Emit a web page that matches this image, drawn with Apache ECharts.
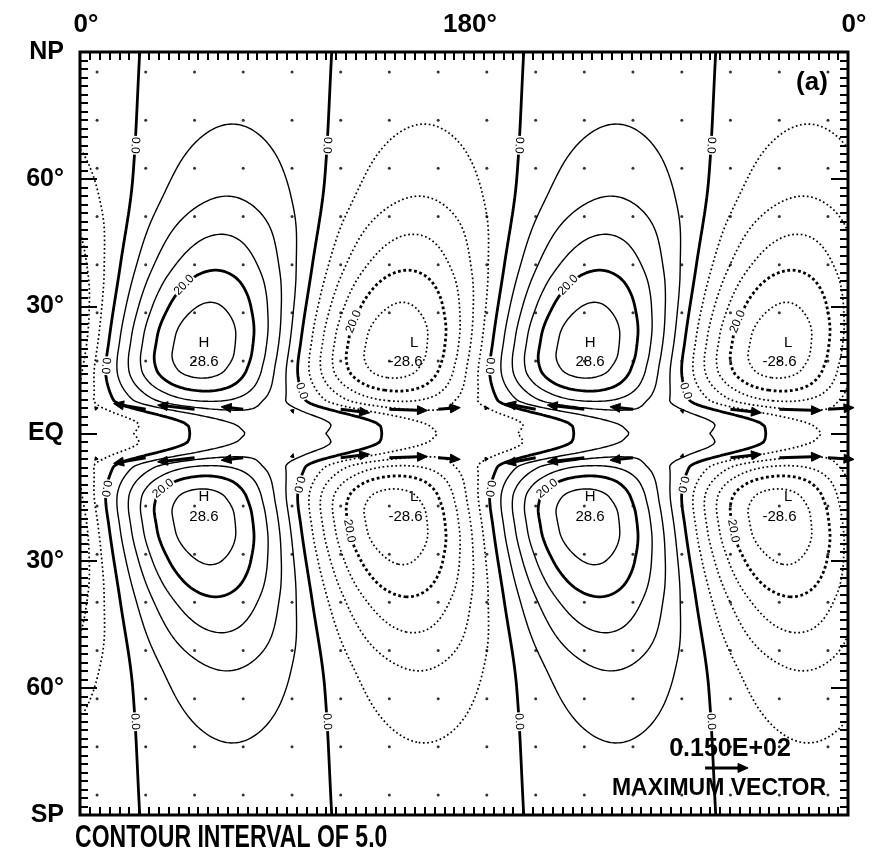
<!DOCTYPE html>
<html>
<head>
<meta charset="utf-8">
<title>Contour chart</title>
<script src="https://cdn.jsdelivr.net/npm/echarts@6/dist/echarts.min.js"></script>
<style>html,body{margin:0;padding:0;background:#fff;}#chart{width:872px;height:857px;}</style>
</head>
<body>
<div id="chart"></div>
<script>
// ---------------- data ----------------
const lonTickLabels = ['0°', '180°', '0°'];                          // at lon 0, 180, 360
const latTickLabels = ['SP', '60°', '30°', 'EQ', '30°', '60°', 'NP'];  // lat -90..90 step 30
const contourInterval = 5;
const contourLevels = [-25, -20, -15, -10, -5, 0, 5, 10, 15, 20, 25];
const boldLevels = [-20, 0, 20];
const zonalWavenumber = 2;
const ampLat = [0, 2, 4.5, 6, 8, 10, 12, 15, 19, 23, 30, 35, 40, 47, 56, 65, 73, 82, 90];
const ampVal = [6.3, 7, 8.5, 11, 16, 20, 23.5, 27, 28.6, 28.4, 25.5, 22.5, 19, 15, 10, 7, 5, 3.5, 2.5];
// longitude of the maximum versus |latitude|
const phaseLat = [0, 1.6, 8, 15, 22, 40, 60, 90];
const phaseLon = [96.5, 96, 60.5, 57, 58.6, 64, 69.7, 73];
// grid points (dots / vector tails)
const gridLon = [8.0, 30.8, 53.7, 76.5, 99.4, 122.2, 145.0, 167.9, 190.7, 213.6, 236.4, 259.2, 282.1, 304.9, 327.8, 350.6];
const gridLat = [85.3, 73.9, 62.6, 51.2, 39.8, 28.5, 17.1, 5.7, -5.7, -17.1, -28.5, -39.8, -51.2, -62.6, -73.9, -85.3];
const vecLatNorth = 5.7, vecLatSouth = -5.7;
const uNorth = [-0.8, -11.2, -12.9, -7.7, 0.4, 10.1, 13.3, 7.7, -0.6, -10.5, -12.9, -8.0, 0.4, 10.8, 14.7, 9.1];
const vNorth = [0.9, 2.0, 1.5, 0.9, -1.4, -1.2, -0.4, 0.6, 1.2, 2.0, 1.5, 0.9, -1.4, -1.2, -0.4, 0.6];
const uSouth = [-0.8, -11.2, -12.9, -7.7, 0.4, 10.1, 13.3, 7.7, -0.6, -10.5, -12.9, -8.0, 0.4, 10.8, 14.7, 9.1];
const vSouth = [-0.9, -2.0, -1.5, -0.9, 1.4, 1.2, 0.4, -0.6, -1.2, -2.0, -1.5, -0.9, 1.4, 1.2, 0.4, -0.6];
const maxVector = 15;
const legendVectorPos = [293, -78.9];
// H / L extrema labels
const extremaLon = [58.1, 156.6, 239.1, 331.9];
const extremaLetter = ['H', 'L', 'H', 'L'];
const extremaValue = ['28.6', '-28.6', '28.6', '-28.6'];
const extremaValueLon = [58.1, 152.6, 239.1, 327.9];
const extremaLetterLat = [21.4, -14.9];
const extremaValueLat = [16.9, -19.6];
// contour line labels
const cLabelLevel = [0, 0, 0, 0, 0, 0, 0, 0, 0, 0, 0, 0, 0, 0, 0, 0, 20, 20, 20, 20, -20, -20, -20, -20];
const cLabelLat = [68, 16, -13, -68, 68, 10, -12, -68, 68, 16, -13, -68, 68, 10, -12, -68, 35, -13, 35, -13, 26.4, -23, 26.4, -23];
const cLabelLon = [26.5, 12, 13, 26.5, 118, 103.5, 103, 118, 206.5, 192, 193, 206.5, 298, 283.5, 283, 298, 49, 45, 229, 225, 129, 130, 309, 310];
const cLabelText = ['0.0', '0.0', '0.0', '0.0', '0.0', '0.0', '0.0', '0.0', '0.0', '0.0', '0.0', '0.0', '0.0', '0.0', '0.0', '0.0', '20.0', '20.0', '20.0', '20.0', '20.0', '20.0', '20.0', '20.0'];

// ---------------- layout / style ----------------
const G = { left: 80, top: 52, width: 768, height: 763 };
const pxPerLon = G.width / 360, pxPerLat = G.height / 180;
const vecPxPerUnit = 43 / maxVector;
const FONT = "'Liberation Sans', Arial, Helvetica, sans-serif";

// ---------------- field from the read profiles ----------------
function makeInterp(xs, ys) {
  const n = xs.length, d = [], m = new Array(n);
  for (let i = 0; i < n - 1; i++) d.push((ys[i + 1] - ys[i]) / (xs[i + 1] - xs[i]));
  m[0] = d[0]; m[n - 1] = d[n - 2];
  for (let i = 1; i < n - 1; i++) {
    if (d[i - 1] * d[i] <= 0) m[i] = 0;
    else {
      const h0 = xs[i] - xs[i - 1], h1 = xs[i + 1] - xs[i];
      const w1 = 2 * h1 + h0, w2 = h1 + 2 * h0;
      m[i] = (w1 + w2) / (w1 / d[i - 1] + w2 / d[i]);
    }
  }
  return function (x) {
    if (x <= xs[0]) return ys[0];
    if (x >= xs[n - 1]) return ys[n - 1];
    let i = 0; while (x > xs[i + 1]) i++;
    const h = xs[i + 1] - xs[i], t = (x - xs[i]) / h, t2 = t * t, t3 = t2 * t;
    return (2 * t3 - 3 * t2 + 1) * ys[i] + (t3 - 2 * t2 + t) * h * m[i] + (-2 * t3 + 3 * t2) * ys[i + 1] + (t3 - t2) * h * m[i + 1];
  };
}
const ampF = makeInterp(ampLat, ampVal);
const phaseF = makeInterp(phaseLat, phaseLon);
function fieldAt(lon, lat) {
  const a = Math.abs(lat);
  return ampF(a) * Math.cos(zonalWavenumber * (lon - phaseF(a)) * Math.PI / 180);
}

const NX = 361, NY = 721;
const lons = [], lats = [];
for (let i = 0; i < NX; i++) lons.push(i * 360 / (NX - 1));
for (let j = 0; j < NY; j++) lats.push(-90 + j * 180 / (NY - 1));
const vals = new Float64Array(NX * NY);
for (let j = 0; j < NY; j++) for (let i = 0; i < NX; i++) vals[j * NX + i] = fieldAt(lons[i], lats[j]);

function traceLevel(level) {
  const pt = new Map(), adj = new Map();
  const ep = (key, xa, ya, va, xb, yb, vb) => {
    if (!pt.has(key)) { const t = (level - va) / (vb - va); pt.set(key, [xa + t * (xb - xa), ya + t * (yb - ya)]); }
    return key;
  };
  const link = (a, b) => {
    if (!adj.has(a)) adj.set(a, []);
    if (!adj.has(b)) adj.set(b, []);
    adj.get(a).push(b); adj.get(b).push(a);
  };
  for (let j = 0; j < NY - 1; j++) {
    for (let i = 0; i < NX - 1; i++) {
      const a = vals[j * NX + i], b = vals[j * NX + i + 1], c = vals[(j + 1) * NX + i + 1], d = vals[(j + 1) * NX + i];
      const A = a >= level, B = b >= level, C = c >= level, D = d >= level;
      const code = (A ? 1 : 0) | (B ? 2 : 0) | (C ? 4 : 0) | (D ? 8 : 0);
      if (code === 0 || code === 15) continue;
      const x0 = lons[i], x1 = lons[i + 1], y0 = lats[j], y1 = lats[j + 1];
      const list = [];
      let eB = -1, eR = -1, eT = -1, eL = -1;
      if (A !== B) { eB = ep((j * NX + i) * 2, x0, y0, a, x1, y0, b); list.push(eB); }
      if (B !== C) { eR = ep((j * NX + i + 1) * 2 + 1, x1, y0, b, x1, y1, c); list.push(eR); }
      if (D !== C) { eT = ep(((j + 1) * NX + i) * 2, x0, y1, d, x1, y1, c); list.push(eT); }
      if (A !== D) { eL = ep((j * NX + i) * 2 + 1, x0, y0, a, x0, y1, d); list.push(eL); }
      if (list.length === 2) link(list[0], list[1]);
      else if (list.length === 4) {
        const center = (a + b + c + d) / 4 >= level;
        if (code === 5) {
          if (center) { link(eB, eR); link(eT, eL); } else { link(eB, eL); link(eR, eT); }
        } else {
          if (center) { link(eB, eL); link(eR, eT); } else { link(eB, eR); link(eT, eL); }
        }
      }
    }
  }
  const visited = new Set(), lines = [];
  const walk = (start) => {
    const line = [pt.get(start)];
    visited.add(start);
    let cur = start;
    while (true) {
      const nxt = adj.get(cur).find(k => !visited.has(k));
      if (nxt === undefined) break;
      visited.add(nxt); line.push(pt.get(nxt)); cur = nxt;
    }
    if (adj.get(cur).includes(start) && line.length > 2) line.push(pt.get(start));
    return line;
  };
  for (const [k, v] of adj) if (v.length === 1 && !visited.has(k)) lines.push(walk(k));
  for (const [k] of adj) if (!visited.has(k)) lines.push(walk(k));
  return lines;
}

const series = [];
contourLevels.forEach(level => {
  const bold = boldLevels.includes(level);
  let ls;
  if (level >= 0) ls = { color: '#000', width: bold ? 2.8 : 1.4, type: 'solid' };
  else ls = { color: '#000', width: bold ? 2.8 : 1.7, type: bold ? [2.8, 2.6] : [1.7, 2.6] };
  traceLevel(level).forEach(line => {
    series.push({
      type: 'line', xAxisIndex: 0, yAxisIndex: 0, data: line, symbol: 'none', silent: true,
      lineStyle: ls, z: 2, animation: false, clip: true
    });
  });
});

// dots at grid points (rows without vectors)
const dotData = [];
gridLat.forEach(la => {
  if (la === vecLatNorth || la === vecLatSouth) return;
  gridLon.forEach(lo => dotData.push([lo, la]));
});
series.push({
  type: 'scatter', xAxisIndex: 0, yAxisIndex: 0, data: dotData, symbol: 'circle', symbolSize: 3,
  itemStyle: { color: '#000' }, silent: true, z: 3, animation: false
});

// vectors
const vecData = [];
gridLon.forEach((lo, k) => {
  vecData.push([lo, vecLatNorth, uNorth[k], vNorth[k]]);
  vecData.push([lo, vecLatSouth, uSouth[k], vSouth[k]]);
});
vecData.push([legendVectorPos[0], legendVectorPos[1], maxVector, 0]);
series.push({
  type: 'custom', xAxisIndex: 0, yAxisIndex: 0, data: vecData, silent: true, z: 4, animation: false,
  renderItem: function (params, api) {
    const p0 = api.coord([api.value(0), api.value(1)]);
    const dx = api.value(2) * vecPxPerUnit, dy = -api.value(3) * vecPxPerUnit;
    const len = Math.hypot(dx, dy);
    if (len < 0.5) return null;
    const ux = dx / len, uy = dy / len;
    const hl = Math.min(10, len * 0.85), hw = Math.min(4.5, Math.max(1.8, len * 0.4));
    const p1 = [p0[0] + dx, p0[1] + dy];
    const bs = [p1[0] - ux * hl, p1[1] - uy * hl];
    return {
      type: 'group', children: [
        { type: 'line', shape: { x1: p0[0], y1: p0[1], x2: bs[0] + ux, y2: bs[1] + uy }, style: { stroke: '#000', lineWidth: 3 } },
        { type: 'polygon', shape: { points: [p1, [bs[0] - uy * hw, bs[1] + ux * hw], [bs[0] + uy * hw, bs[1] - ux * hw]] }, style: { fill: '#000', stroke: '#000', lineWidth: 1, lineJoin: 'round' } }
      ]
    };
  }
});

// contour line labels, placed on the line
function labelGeom(level, lat, guess) {
  let best = null;
  const st = 0.05;
  for (let lon = guess - 25; lon < guess + 25; lon += st) {
    const f1 = fieldAt(lon, lat) - level, f2 = fieldAt(lon + st, lat) - level;
    if (f1 === 0 || f1 * f2 < 0) {
      const x = lon + st * f1 / (f1 - f2);
      if (best === null || Math.abs(x - guess) < Math.abs(best - guess)) best = x;
    }
  }
  const lon = best === null ? guess : best;
  const h = 0.01;
  const dlon = (fieldAt(lon + h, lat) - fieldAt(lon - h, lat)) / (2 * h);
  const dlat = (fieldAt(lon, lat + h) - fieldAt(lon, lat - h)) / (2 * h);
  const gx = dlon / pxPerLon, gy = -dlat / pxPerLat;
  let tx = -gy, ty = gx;
  if (tx < 0) { tx = -tx; ty = -ty; }
  const n = Math.hypot(tx, ty) || 1;
  if (tx / n < 0.25 && ty < 0) { tx = -tx; ty = -ty; }
  return { lon, lat, rot: Math.atan2(-ty, tx) };
}
const cLabelGeo = cLabelLevel.map((lv, i) => labelGeom(lv, cLabelLat[i], cLabelLon[i]));
series.push({
  type: 'custom', xAxisIndex: 0, yAxisIndex: 0, data: cLabelGeo.map(g => [g.lon, g.lat]), silent: true, z: 6, animation: false,
  renderItem: function (params, api) {
    const p = api.coord([api.value(0), api.value(1)]);
    const g = cLabelGeo[params.dataIndex];
    return {
      type: 'text', x: p[0], y: p[1], rotation: g.rot,
      style: { text: cLabelText[params.dataIndex], fontSize: 12, fontFamily: FONT, fill: '#000', align: 'center', verticalAlign: 'middle', backgroundColor: '#fff', padding: [0, 1] }
    };
  }
});

// H / L labels
const hlItems = [];
extremaLon.forEach((lo, k) => {
  [0, 1].forEach(h => {
    hlItems.push({ lon: lo, lat: extremaLetterLat[h], text: extremaLetter[k] });
    hlItems.push({ lon: extremaValueLon[k], lat: extremaValueLat[h], text: extremaValue[k] });
  });
});
series.push({
  type: 'custom', xAxisIndex: 0, yAxisIndex: 0, data: hlItems.map(o => [o.lon, o.lat]), silent: true, z: 6, animation: false,
  renderItem: function (params, api) {
    const p = api.coord([api.value(0), api.value(1)]);
    return {
      type: 'text', x: p[0], y: p[1],
      style: { text: hlItems[params.dataIndex].text, fontSize: 15, fontFamily: FONT, fill: '#000', align: 'center', verticalAlign: 'middle' }
    };
  }
});

function fortranE(v) {
  const e = Math.floor(Math.log10(Math.abs(v))) + 1;
  const m = (v / Math.pow(10, e)).toFixed(3);
  return m + 'E' + (e >= 0 ? '+' : '-') + String(Math.abs(e)).padStart(2, '0');
}

const tickStyle = { color: '#000', width: 2 };
const xBase = {
  type: 'value', min: 0, max: 360, interval: 180,
  axisLine: { show: false, onZero: false },
  axisTick: { show: true, inside: true, length: 8, lineStyle: tickStyle },
  minorTick: { show: true, splitNumber: 39, length: 8, lineStyle: tickStyle },
  splitLine: { show: false }, minorSplitLine: { show: false }
};
const yBase = {
  type: 'value', min: -90, max: 90, interval: 30,
  axisLine: { show: false, onZero: false },
  axisTick: { show: true, inside: true, length: 17, lineStyle: tickStyle },
  minorTick: { show: true, splitNumber: 15, length: 8, lineStyle: tickStyle },
  splitLine: { show: false }, minorSplitLine: { show: false }
};

const option = {
  backgroundColor: '#fff',
  animation: false,
  grid: { left: G.left, top: G.top, width: G.width, height: G.height, show: true, borderColor: '#000', borderWidth: 3, backgroundColor: 'transparent', z: 10 },
  xAxis: [
    Object.assign({}, xBase, { position: 'bottom', axisLabel: { show: false } }),
    Object.assign({}, xBase, {
      position: 'top',
      axisLabel: { show: true, margin: 14, formatter: v => lonTickLabels[Math.round(v / 180)], fontSize: 26, fontWeight: 'bold', fontFamily: FONT, color: '#000', padding: [0, 0, 0, 12] }
    })
  ],
  yAxis: [
    Object.assign({}, yBase, {
      position: 'left',
      axisLabel: { show: true, margin: 16, formatter: v => latTickLabels[Math.round((v + 90) / 30)], fontSize: 25, fontWeight: 'bold', fontFamily: FONT, color: '#000' }
    }),
    Object.assign({}, yBase, { position: 'right', axisLabel: { show: false } })
  ],
  graphic: [
    { type: 'text', x: 75, y: 838, scaleX: 0.72, z: 100, style: { text: 'CONTOUR INTERVAL OF ' + contourInterval.toFixed(1), fontSize: 32, fontWeight: 'bold', fontFamily: FONT, fill: '#000', align: 'left', verticalAlign: 'middle' } },
    { type: 'text', x: 812, y: 83, z: 100, style: { text: '(a)', fontSize: 26, fontWeight: 'bold', fontFamily: FONT, fill: '#000', align: 'center', verticalAlign: 'middle' } },
    { type: 'text', x: 730, y: 749, z: 100, style: { text: fortranE(maxVector), fontSize: 25, fontWeight: 'bold', fontFamily: FONT, fill: '#000', align: 'center', verticalAlign: 'middle' } },
    { type: 'text', x: 719, y: 789, z: 100, style: { text: 'MAXIMUM VECTOR', fontSize: 23, fontWeight: 'bold', fontFamily: FONT, fill: '#000', align: 'center', verticalAlign: 'middle' } }
  ],
  series: series
};

const chart = echarts.init(document.getElementById('chart'), null, { renderer: 'canvas' });
chart.setOption(option);
</script>
</body>
</html>
